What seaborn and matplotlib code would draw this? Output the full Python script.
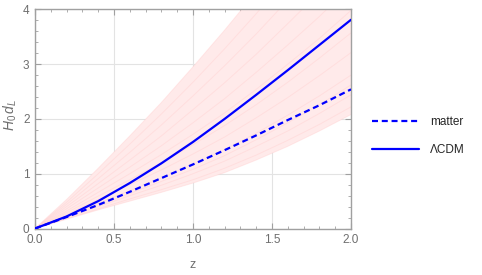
import numpy as np
import pandas as pd
import matplotlib
matplotlib.use("Agg")
import matplotlib.pyplot as plt
import seaborn as sns
from matplotlib.lines import Line2D
from matplotlib.ticker import MultipleLocator

# ---- data ----
z = [0.0, 0.2, 0.4, 0.6, 0.8, 1.0, 1.2, 1.4, 1.6, 1.8, 2.0]
matter = [0.0, 0.21, 0.43, 0.67, 0.92, 1.17, 1.43, 1.70, 1.98, 2.25, 2.54]
lcdm = [0.0, 0.22, 0.50, 0.83, 1.19, 1.58, 2.00, 2.44, 2.89, 3.35, 3.81]
band_lower = [0.0, 0.17, 0.34, 0.50, 0.66, 0.83, 1.02, 1.25, 1.50, 1.78, 2.08]
band_upper = [0.0, 0.53, 1.10, 1.69, 2.30, 2.95, 3.62, 4.32, 5.06, 5.80, 6.60]
samples = [
    [0.0, 0.17, 0.34, 0.50, 0.66, 0.83, 1.02, 1.25, 1.50, 1.78, 2.08],
    [0.0, 0.18, 0.36, 0.54, 0.71, 0.89, 1.10, 1.34, 1.61, 1.90, 2.22],
    [0.0, 0.20, 0.40, 0.60, 0.79, 1.00, 1.23, 1.50, 1.78, 2.10, 2.44],
    [0.0, 0.21, 0.43, 0.64, 0.86, 1.08, 1.33, 1.62, 1.93, 2.26, 2.62],
    [0.0, 0.23, 0.46, 0.69, 0.92, 1.17, 1.44, 1.74, 2.07, 2.42, 2.80],
    [0.0, 0.26, 0.53, 0.80, 1.07, 1.36, 1.67, 2.02, 2.39, 2.79, 3.21],
    [0.0, 0.29, 0.59, 0.89, 1.20, 1.53, 1.88, 2.26, 2.67, 3.11, 3.57],
    [0.0, 0.32, 0.66, 1.00, 1.35, 1.72, 2.11, 2.54, 3.00, 3.47, 3.98],
    [0.0, 0.36, 0.74, 1.12, 1.51, 1.93, 2.37, 2.85, 3.35, 3.87, 4.43],
    [0.0, 0.40, 0.82, 1.25, 1.69, 2.17, 2.66, 3.18, 3.74, 4.31, 4.93],
    [0.0, 0.44, 0.91, 1.39, 1.89, 2.42, 2.97, 3.55, 4.17, 4.80, 5.47],
    [0.0, 0.48, 1.00, 1.54, 2.09, 2.67, 3.28, 3.92, 4.60, 5.28, 6.01],
    [0.0, 0.53, 1.10, 1.69, 2.30, 2.95, 3.62, 4.32, 5.06, 5.80, 6.60],
]
legend_labels = ["matter", "\u039bCDM"]

# ---- styling ----
sns.set_style("ticks")
plt.rcParams["font.family"] = ["Liberation Sans", "DejaVu Sans"]
plt.rcParams["mathtext.fontset"] = "custom"
plt.rcParams["mathtext.it"] = "Liberation Sans:italic"
plt.rcParams["mathtext.rm"] = "Liberation Sans"

txt = "#6e6e6e"
blue = "#0000ff"

fig = plt.figure(figsize=(4.82, 2.75), dpi=100)
ax = fig.add_axes([0.0726, 0.169, 0.6556, 0.797])

# band
ax.fill_between(z, band_lower, band_upper, color="#ffeaea", lw=0, zorder=1)
rows = []
for i, s in enumerate(samples):
    for zz, v in zip(z, s):
        rows.append({"z": zz, "dl": v, "curve": i})
df_s = pd.DataFrame(rows)
sns.lineplot(data=df_s, x="z", y="dl", units="curve", estimator=None,
             color="#ffc8c8", alpha=0.35, lw=0.7, ax=ax, zorder=2)

df_m = pd.DataFrame({"z": z, "dl": matter})
df_l = pd.DataFrame({"z": z, "dl": lcdm})
sns.lineplot(data=df_m, x="z", y="dl", color=blue, lw=1.6, ax=ax, zorder=4)
ax.lines[-1].set_dashes((2.7, 1.7))
sns.lineplot(data=df_l, x="z", y="dl", color=blue, lw=1.6, ax=ax, zorder=4)

ax.set_xlim(0, 2)
ax.set_ylim(0, 4)
ax.xaxis.set_minor_locator(MultipleLocator(0.1))
ax.yaxis.set_minor_locator(MultipleLocator(0.2))
ax.set_xticks([0, 0.5, 1.0, 1.5, 2.0])
ax.set_xticklabels(["0.0", "0.5", "1.0", "1.5", "2.0"])
ax.set_yticks([0, 1, 2, 3, 4])
ax.set_yticklabels(["0", "1", "2", "3", "4"])

ax.grid(True, which="major", color="#e3e3e3", lw=0.8, zorder=0)
ax.set_axisbelow(True)
for sp in ax.spines.values():
    sp.set_visible(True)
    sp.set_color("#a0a0a0")
    sp.set_linewidth(1.0)
ax.tick_params(which="both", direction="in", top=True, right=True,
               color="#a0a0a0", labelcolor=txt, labelsize=8.5)
ax.tick_params(which="major", length=4.5, width=0.8, pad=4)
ax.tick_params(which="minor", length=2.5, width=0.6)

ax.set_xlabel("z", color=txt, fontsize=9)
ax.xaxis.label.set_va("center")
ax.xaxis.set_label_coords(0.5, -0.166)
ax.set_ylabel(r"$H_0\,d_L$", color=txt, fontsize=10)
ax.yaxis.label.set_va("center")
ax.yaxis.set_label_coords(-0.079, 0.52)

handles = [Line2D([], [], color=blue, lw=1.6, dashes=(2.7, 1.7)),
           Line2D([], [], color=blue, lw=1.6)]
fig.legend(handles, legend_labels, loc="center left",
           bbox_to_anchor=(0.772, 0.505), frameon=False, fontsize=8.5,
           handlelength=4.0, handletextpad=0.9, labelspacing=1.4,
           borderpad=0, borderaxespad=0)

fig.savefig("out.png", dpi=100)
